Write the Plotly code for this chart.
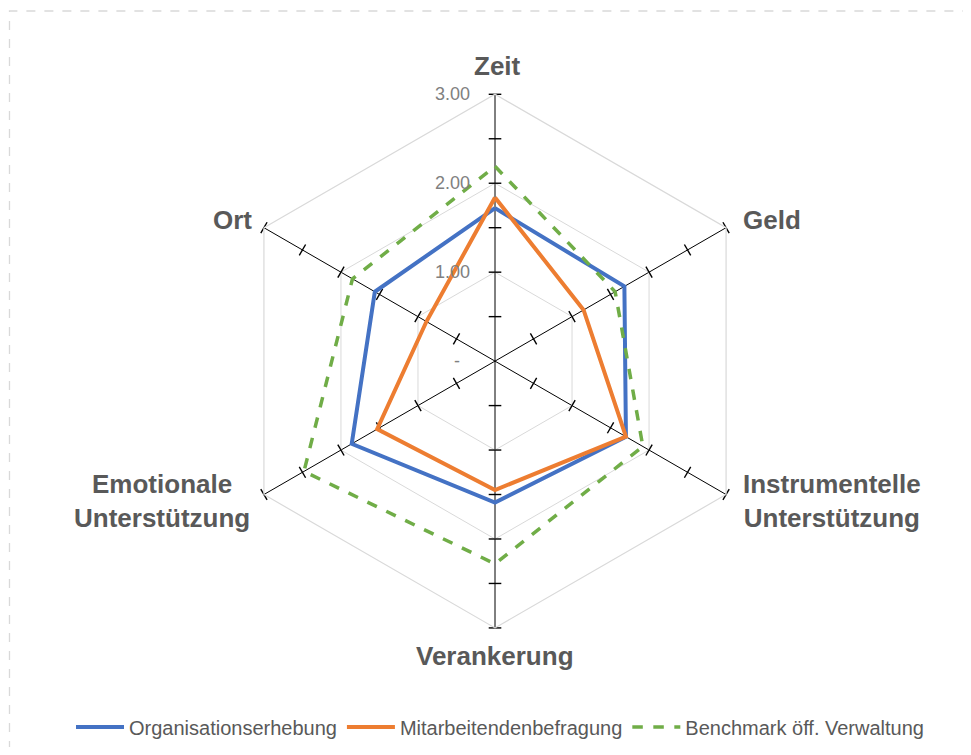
import plotly.graph_objects as go

categories = ["Zeit", "Geld", "Instrumentelle Unterstützung", "Verankerung",
              "Emotionale Unterstützung", "Ort"]
category_labels = ["Zeit", "Geld", "Instrumentelle<br>Unterstützung", "Verankerung",
                   "Emotionale<br>Unterstützung", "Ort"]
organisationserhebung = [1.72, 1.68, 1.70, 1.59, 1.86, 1.56]
mitarbeitendenbefragung = [1.84, 1.15, 1.70, 1.45, 1.53, 0.89]
benchmark = [2.19, 1.56, 1.92, 2.28, 2.48, 1.85]
series_names = ["Organisationserhebung", "Mitarbeitendenbefragung", "Benchmark öff. Verwaltung"]
radial_tickvals = [0, 1, 2, 3]
radial_ticktext = ["-", "1.00", "2.00", "3.00"]
spoke_ticks = [0.5, 1.0, 1.5, 2.0, 2.5, 3.0]
bearings = [0, 60, 120, 180, 240, 300]

OFF = 8                     # page body margin
W, H = 955, 739             # figure size so it fits the 971x755 window
cx, cy, R = 495, 364, 269   # page pixel centre / radius of the radar
RMAX = 3.0


def px2paper(px, py):
    return (px - OFF) / W, 1 - (py - OFF) / H


fig = go.Figure()

# tick marks on every spoke
tick_r, tick_t, tick_a = [], [], []
for cat, b in zip(categories, bearings):
    for r in spoke_ticks:
        tick_r.append(r)
        tick_t.append(cat)
        tick_a.append(b)
fig.add_trace(go.Scatterpolar(
    r=tick_r, theta=tick_t, mode="markers", showlegend=False, hoverinfo="skip",
    marker=dict(symbol="line-ew", size=9, angle=tick_a,
                line=dict(color="black", width=1.4))))


def closed(v):
    return v + v[:1]


fig.add_trace(go.Scatterpolar(
    r=closed(organisationserhebung), theta=closed(categories), mode="lines",
    name=series_names[0], line=dict(color="#4472C4", width=4)))
fig.add_trace(go.Scatterpolar(
    r=closed(mitarbeitendenbefragung), theta=closed(categories), mode="lines",
    name=series_names[1], line=dict(color="#ED7D31", width=4)))
fig.add_trace(go.Scatterpolar(
    r=closed(benchmark), theta=closed(categories), mode="lines",
    name=series_names[2], line=dict(color="#70AD47", width=3.5, dash="dash")))

x0, _ = px2paper(cx - R, 0)
x1, _ = px2paper(cx + R, 0)
_, y0 = px2paper(0, cy + R)
_, y1 = px2paper(0, cy - R)

fig.update_layout(
    width=W, height=H,
    margin=dict(l=0, r=0, t=0, b=0),
    paper_bgcolor="white",
    font=dict(family="Liberation Sans, Arial, sans-serif"),
    polar=dict(
        domain=dict(x=[x0, x1], y=[y0, y1]),
        bgcolor="white",
        gridshape="linear",
        angularaxis=dict(
            type="category", categoryorder="array", categoryarray=categories,
            direction="clockwise", rotation=90,
            showticklabels=False, ticks="",
            showgrid=True, gridcolor="black", gridwidth=1.3,
            showline=True, linecolor="#d9d9d9", linewidth=1.2),
        radialaxis=dict(
            range=[0, RMAX], tickvals=radial_tickvals,
            angle=90, showticklabels=False,
            showline=False, ticks="",
            gridcolor="#d9d9d9", gridwidth=1.2),
    ),
    legend=dict(orientation="h", x=px2paper(500, 0)[0], xanchor="center",
                y=px2paper(0, 733)[1], yanchor="middle",
                font=dict(size=20, color="#595959"), itemwidth=48,
                traceorder="normal", tracegroupgap=0),
    showlegend=True,
)

# radial tick labels (left of the top spoke)
for v, t in zip(radial_tickvals, radial_ticktext):
    lx, ly = px2paper(472 if t != "-" else 462, cy - v / RMAX * R)
    fig.add_annotation(x=lx, y=ly, xref="paper", yref="paper", text=t,
                       showarrow=False, xanchor="right", yanchor="middle",
                       font=dict(size=18, color="#808080"))

label_pos = [
    (497, 66, "center"),
    (741, 222, "left"),
    (832, 505, "center"),
    (495, 661, "center"),
    (162, 505, "center"),
    (254, 222, "right"),
]
for lab, (px, py, xa) in zip(category_labels, label_pos):
    ax, ay = px2paper(px, py)
    fig.add_annotation(
        x=ax, y=ay, xref="paper", yref="paper",
        text=lab, showarrow=False, xanchor=xa, yanchor="middle", align="center",
        font=dict(size=26, color="#595959", family="Liberation Sans, Arial, sans-serif",
                  weight="bold"))

# dashed chart-area border (only top and left edges fall inside the window)
bx0, by1 = px2paper(9.5, 11)
fig.add_shape(type="rect", xref="paper", yref="paper",
              x0=bx0, x1=1.02, y0=-0.02, y1=by1,
              line=dict(color="#d9d9d9", width=1.3, dash="dash"), layer="below")

fig.write_html("out.html")
